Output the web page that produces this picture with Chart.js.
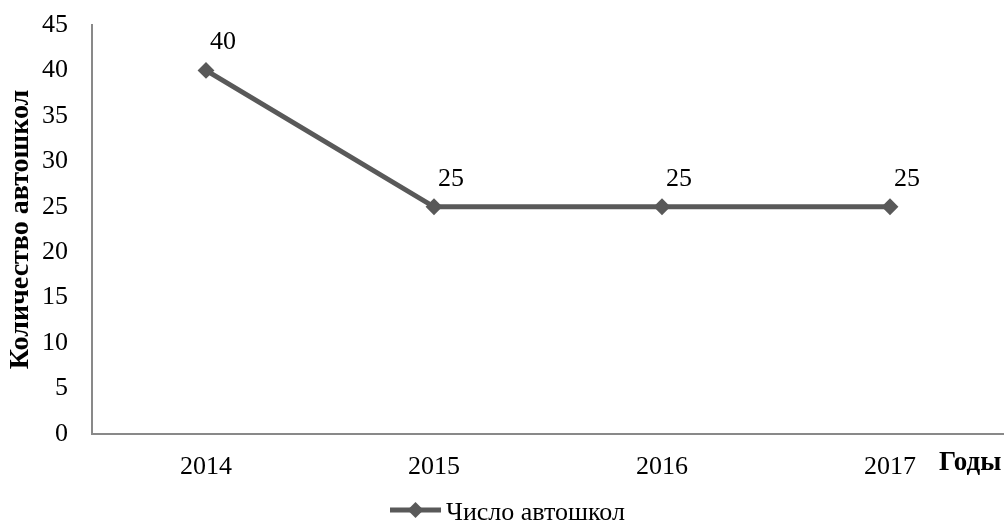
<!DOCTYPE html>
<html>
<head>
<meta charset="utf-8">
<script src="https://cdn.jsdelivr.net/npm/chart.js@4/dist/chart.umd.min.js"></script>
<style>
html,body{margin:0;padding:0;background:#fff;}
#wrap{width:1004px;height:524px;position:relative;}
</style>
</head>
<body>
<div id="wrap"><canvas id="c" width="1004" height="524"></canvas></div>
<script>
const categories = ['2014', '2015', '2016', '2017'];
const seriesName = 'Число автошкол';
const seriesValues = [40, 25, 25, 25];
const yTitle = 'Количество автошкол';
const xTitle = 'Годы';
const yMin = 0, yMax = 45, yStep = 5;

const FONT = '"Liberation Serif", "Times New Roman", serif';
const LINE_COLOR = '#595959';
const AXIS_COLOR = '#898989';

const extras = {
  id: 'extras',
  afterDatasetsDraw(chart) {
    const ctx = chart.ctx;
    const meta = chart.getDatasetMeta(0);
    ctx.save();
    ctx.fillStyle = '#000';
    ctx.font = '26px ' + FONT;
    ctx.textAlign = 'center';
    ctx.textBaseline = 'middle';
    meta.data.forEach((pt, i) => {
      ctx.fillText(String(seriesValues[i]), pt.x + 17, pt.y - 28);
    });
    // x axis title
    ctx.font = 'bold 27px ' + FONT;
    ctx.textAlign = 'left';
    ctx.textBaseline = 'alphabetic';
    ctx.fillText(xTitle, 939, 470);
    // legend
    const ly = 510;
    ctx.font = '26px ' + FONT;
    const x0 = 390;
    const lineLen = 51;
    ctx.strokeStyle = LINE_COLOR;
    ctx.lineWidth = 5;
    ctx.beginPath();
    ctx.moveTo(x0, ly);
    ctx.lineTo(x0 + lineLen, ly);
    ctx.stroke();
    ctx.fillStyle = LINE_COLOR;
    const mx = x0 + lineLen / 2, r = 8;
    ctx.beginPath();
    ctx.moveTo(mx - r, ly); ctx.lineTo(mx, ly - r); ctx.lineTo(mx + r, ly); ctx.lineTo(mx, ly + r);
    ctx.closePath();
    ctx.fill();
    ctx.fillStyle = '#000';
    ctx.textAlign = 'left';
    ctx.textBaseline = 'alphabetic';
    ctx.fillText(seriesName, x0 + lineLen + 5, 520);
    ctx.restore();
  }
};

new Chart(document.getElementById('c'), {
  type: 'line',
  data: {
    labels: categories,
    datasets: [{
      label: seriesName,
      data: seriesValues,
      borderColor: LINE_COLOR,
      backgroundColor: LINE_COLOR,
      borderWidth: 5,
      pointStyle: 'rectRot',
      pointRadius: 7,
      pointBorderWidth: 2,
      pointBackgroundColor: LINE_COLOR,
      pointBorderColor: LINE_COLOR,
      tension: 0
    }]
  },
  options: {
    responsive: false,
    animation: false,
    devicePixelRatio: 1,
    layout: { autoPadding: false, padding: { top: 25, right: 0, bottom: 0, left: 0 } },
    plugins: { legend: { display: false }, tooltip: { enabled: false } },
    scales: {
      x: {
        type: 'category',
        offset: true,
        grid: { display: false, drawTicks: false },
        border: { display: true, color: AXIS_COLOR, width: 2 },
        ticks: { color: '#000', font: { family: FONT, size: 26 }, padding: 18, maxRotation: 0 },
        afterFit(scale) { scale.height = 90; scale.paddingLeft = 0; scale.paddingRight = 0; }
      },
      y: {
        min: yMin, max: yMax,
        grid: { display: false, drawTicks: false },
        border: { display: true, color: AXIS_COLOR, width: 2 },
        ticks: { stepSize: yStep, color: '#000', font: { family: FONT, size: 26 }, padding: 24 },
        title: { display: true, text: yTitle, color: '#000', font: { family: FONT, size: 28, weight: 'bold' }, padding: { top: 4, bottom: 4 } },
        afterFit(scale) { scale.width = 92; scale.paddingTop = 0; scale.paddingBottom = 0; }
      }
    }
  },
  plugins: [extras]
});
</script>
</body>
</html>
